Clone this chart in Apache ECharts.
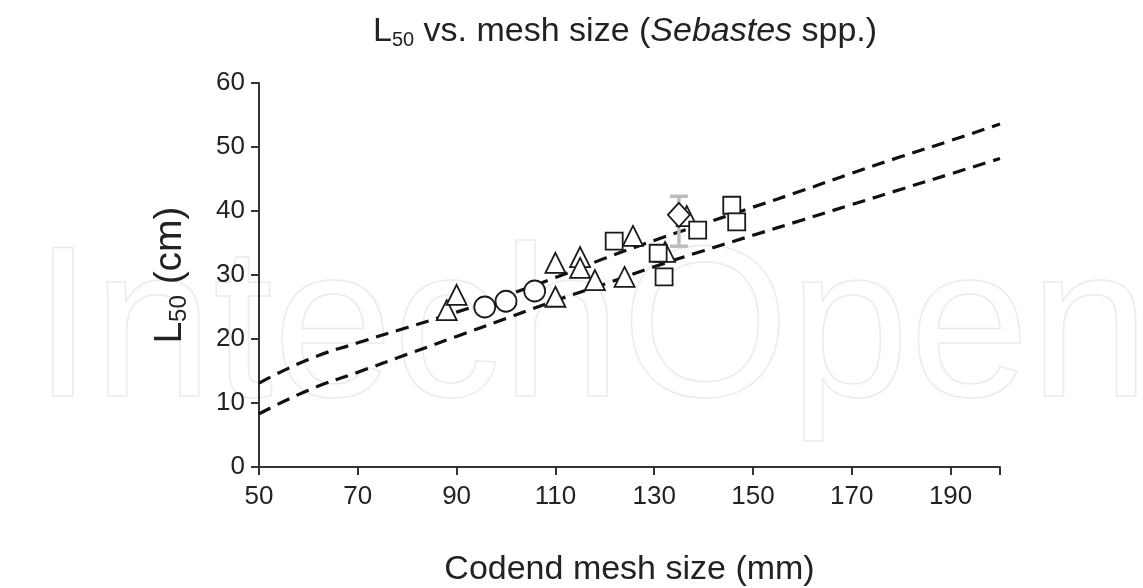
<!DOCTYPE html>
<html><head><meta charset="utf-8">
<script src="https://cdn.jsdelivr.net/npm/echarts@6/dist/echarts.min.js"></script>
<style>html,body{margin:0;padding:0;background:#fff}#c{width:1143px;height:588px}</style>
</head><body><div id="c"></div>
<script>
// Data
const xTicks = [50, 70, 90, 110, 130, 150, 170, 190];
const triangles = [[88,24.5],[90,26.9],[110,31.9],[110,26.6],[115,32.8],[115,31.1],[118,29.2],[124,29.7],[125.7,36.1],[132.2,33.6],[136.6,39.2]];
const circles = [[95.7,25.0],[100,25.9],[105.8,27.5]];
const squares = [[121.9,35.3],[130.8,33.4],[132,29.7],[138.8,37.0],[145.7,40.9],[146.7,38.3]];
const diamonds = [[135,39.4]];
const errorBars = [[135,34.5,42.3]];
const upperX = [50,60,70,80,90,100,110,120,130,140,150,160,170,180,190,200];
const upperY = [13.1,16.8,19.4,21.8,24.2,26.8,29.6,32.6,35.4,38.0,40.6,43.2,45.9,48.5,51.0,53.6];
const lowerX = [50,60,70,80,90,100,110,120,130,140,150,160,170,180,190,200];
const lowerY = [8.3,12.0,14.8,17.6,20.4,23.2,26.0,28.6,31.3,33.8,36.2,38.6,41.0,43.4,45.8,48.2];

const chart = echarts.init(document.getElementById('c'));
const font = 'Liberation Sans, Arial, sans-serif';
const mk = (name, data, symbol, size) => ({
  type: 'scatter', name, data, symbol, symbolSize: size, z: 5,
  itemStyle: {color: '#fff', borderColor: '#1a1a1a', borderWidth: 1.8, opacity: 1}
});
chart.setOption({
  animation: false,
  graphic: [{
    type: 'text', left: 32, top: 228, z: -10, silent: true,
    style: {text: 'IntechOpen', fontSize: 216, fontFamily: font, fill: 'rgba(0,0,0,0)', stroke: '#ebebeb', lineWidth: 1.5}
  }],
  title: {
    text: '{n|L}{s|50}{n| vs. mesh size (}{i|Sebastes}{n| spp.)}',
    left: 368, top: 8,
    textStyle: {fontWeight: 'normal', rich: {
      n: {fontSize: 34, fontFamily: font, color: '#222', fontWeight: 'normal'},
      i: {fontSize: 34, fontFamily: font, color: '#222', fontStyle: 'italic', fontWeight: 'normal'},
      s: {fontSize: 20, fontFamily: font, color: '#222', fontWeight: 'normal', padding: [17,0,0,0]}
    }}
  },
  grid: {left: 259, right: 143, top: 83, bottom: 121, containLabel: false, outerBoundsMode: 'none'},
  xAxis: {
    type: 'value', min: 50, max: 200, interval: 20,
    axisLine: {show: true, onZero: false, lineStyle: {color: '#333', width: 2}},
    axisTick: {show: true, length: 8, lineStyle: {color: '#333', width: 2}},
    splitLine: {show: false},
    axisLabel: {fontSize: 26, fontFamily: font, color: '#222', margin: 17,
      formatter: v => xTicks.includes(v) ? String(v) : ''},
    name: 'Codend mesh size (mm)', nameLocation: 'middle', nameGap: 86,
    nameTextStyle: {fontSize: 34, fontFamily: font, color: '#222'}
  },
  yAxis: {
    type: 'value', min: 0, max: 60, interval: 10,
    axisLine: {show: true, lineStyle: {color: '#333', width: 2}},
    axisTick: {show: true, length: 8, lineStyle: {color: '#333', width: 2}},
    splitLine: {show: false},
    axisLabel: {fontSize: 26, fontFamily: font, color: '#222', margin: 14},
    name: '{n|L}{s|50}{n| (cm)}', nameLocation: 'middle', nameGap: 68,
    nameTextStyle: {rich: {
      n: {fontSize: 39, fontFamily: font, color: '#222'},
      s: {fontSize: 24, fontFamily: font, color: '#222', padding: [17,0,0,0]}
    }}
  },
  series: [
    {type: 'line', data: upperX.map((x,i)=>[x, upperY[i]]), smooth: true, symbol: 'none', z: 3,
      lineStyle: {color: '#111', width: 3.2, type: [13, 8]}},
    {type: 'line', data: lowerX.map((x,i)=>[x, lowerY[i]]), smooth: true, symbol: 'none', z: 3,
      lineStyle: {color: '#111', width: 3.2, type: [13, 8]}},
    {type: 'custom', z: 4, data: errorBars,
      renderItem: (params, api) => {
        const top = api.coord([api.value(0), api.value(2)]);
        const bot = api.coord([api.value(0), api.value(1)]);
        const w = 9;
        const st = {stroke: '#bdbdbd', lineWidth: 3.5};
        return {type: 'group', children: [
          {type: 'line', shape: {x1: top[0], y1: top[1], x2: bot[0], y2: bot[1]}, style: st},
          {type: 'line', shape: {x1: top[0]-w, y1: top[1], x2: top[0]+w, y2: top[1]}, style: st},
          {type: 'line', shape: {x1: bot[0]-w, y1: bot[1], x2: bot[0]+w, y2: bot[1]}, style: st}
        ]};
      }},
    mk('tri', triangles, 'triangle', 20),
    mk('circ', circles, 'circle', 21),
    mk('sq', squares, 'rect', 17),
    mk('dia', diamonds, 'diamond', [22, 24])
  ]
});
</script></body></html>
